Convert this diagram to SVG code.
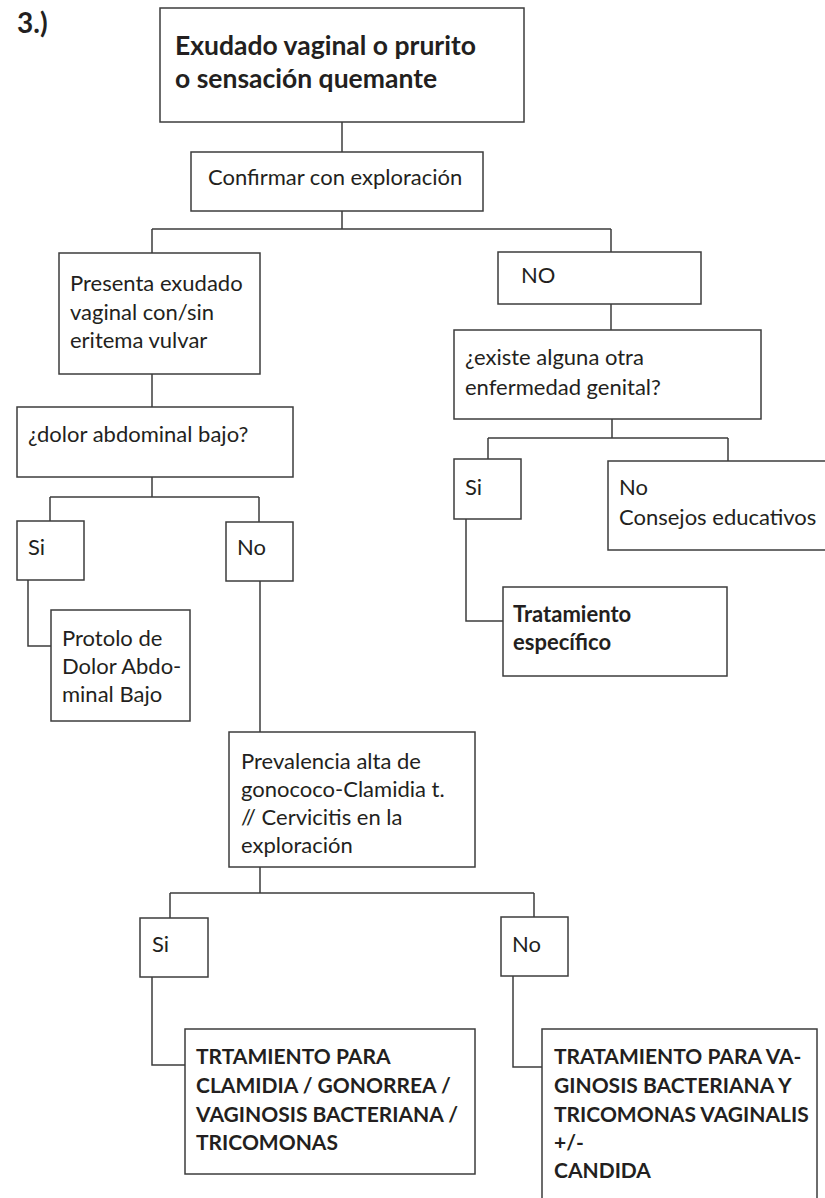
<svg xmlns="http://www.w3.org/2000/svg" width="825" height="1198" viewBox="0 0 825 1198">
  <style>
    .box { fill: #ffffff; stroke: #3d3d3d; stroke-width: 1.5; }
    .wire { fill: none; stroke: #3d3d3d; stroke-width: 1.5; }
    .t { font-family: Lato, "Liberation Sans", sans-serif; font-size: 22px; fill: #231f20; }
    .b { font-family: Lato, "Liberation Sans", sans-serif; font-size: 21px; font-weight: bold; fill: #231f20; }
    .h { font-family: Lato, "Liberation Sans", sans-serif; font-size: 26.5px; font-weight: bold; fill: #231f20; }
  </style>
  <rect width="825" height="1198" fill="#ffffff"/>

  <text class="h" x="17" y="33" style="font-size:28px">3.)</text>

  <!-- connectors -->
  <g id="connectors">
    <path class="wire" d="M342 122 V152"/>
    <path class="wire" d="M342 211 V229 M152 229 H611 M152 229 V253 M611 229 V252"/>
    <path class="wire" d="M152 374 V407"/>
    <path class="wire" d="M152 477 V497 M50 497 H259 M50 497 V521 M259 497 V522"/>
    <path class="wire" d="M28 580 V646 H51"/>
    <path class="wire" d="M260 581 V732"/>
    <path class="wire" d="M260 867 V893 M170 893 H534 M170 893 V918 M534 893 V917"/>
    <path class="wire" d="M152 977 V1065 H185"/>
    <path class="wire" d="M513 976 V1067 H542"/>
    <path class="wire" d="M611 304 V330"/>
    <path class="wire" d="M612 419 V438 M488 438 H728 M488 438 V459 M728 438 V461"/>
    <path class="wire" d="M466 519 V621 H503"/>
  </g>

  <g id="n-start">
    <rect class="box" x="160" y="8" width="364" height="114"/>
    <text class="h" x="175" y="55">Exudado vaginal o prurito</text>
    <text class="h" x="175" y="88">o sensación quemante</text>
  </g>

  <g id="n-confirm">
    <rect class="box" x="191" y="152" width="292" height="59"/>
    <text class="t" x="208" y="185">Confirmar con exploración</text>
  </g>

  <g id="n-presenta">
    <rect class="box" x="59" y="253" width="201" height="121"/>
    <text class="t" x="70" y="291">Presenta exudado</text>
    <text class="t" x="70" y="320">vaginal con/sin</text>
    <text class="t" x="70" y="348">eritema vulvar</text>
  </g>

  <g id="n-dolor">
    <rect class="box" x="17" y="407" width="276" height="70"/>
    <text class="t" x="28" y="442">¿dolor abdominal bajo?</text>
  </g>

  <g id="n-si1">
    <rect class="box" x="17" y="521" width="67" height="59"/>
    <text class="t" x="28" y="555">Si</text>
  </g>

  <g id="n-no1">
    <rect class="box" x="226" y="522" width="67" height="59"/>
    <text class="t" x="237" y="555">No</text>
  </g>

  <g id="n-protocolo">
    <rect class="box" x="51" y="610" width="139" height="111"/>
    <text class="t" x="62" y="646">Protolo de</text>
    <text class="t" x="62" y="674">Dolor Abdo-</text>
    <text class="t" x="62" y="702">minal Bajo</text>
  </g>

  <g id="n-prevalencia">
    <rect class="box" x="229" y="732" width="246" height="135"/>
    <text class="t" x="241" y="769">Prevalencia alta de</text>
    <text class="t" x="241" y="797">gonococo-Clamidia t.</text>
    <text class="t" x="241" y="825">// Cervicitis en la</text>
    <text class="t" x="241" y="853">exploración</text>
  </g>

  <g id="n-si2">
    <rect class="box" x="140" y="918" width="68" height="59"/>
    <text class="t" x="152" y="952">Si</text>
  </g>

  <g id="n-no2">
    <rect class="box" x="501" y="917" width="67" height="59"/>
    <text class="t" x="512" y="952">No</text>
  </g>

  <g id="n-trat-clamidia">
    <rect class="box" x="185" y="1029" width="290" height="145"/>
    <text class="b" x="196" y="1064">TRTAMIENTO PARA</text>
    <text class="b" x="196" y="1093">CLAMIDIA / GONORREA /</text>
    <text class="b" x="196" y="1122">VAGINOSIS BACTERIANA /</text>
    <text class="b" x="196" y="1150">TRICOMONAS</text>
  </g>

  <g id="n-trat-vaginosis">
    <rect class="box" x="542" y="1029" width="275" height="190"/>
    <text class="b" x="554" y="1064">TRATAMIENTO PARA VA-</text>
    <text class="b" x="554" y="1093">GINOSIS BACTERIANA Y</text>
    <text class="b" x="554" y="1122">TRICOMONAS VAGINALIS</text>
    <text class="b" x="554" y="1150">+/-</text>
    <text class="b" x="554" y="1178">CANDIDA</text>
  </g>

  <g id="n-no-confirm">
    <rect class="box" x="498" y="252" width="203" height="52"/>
    <text class="t" x="521" y="283">NO</text>
  </g>

  <g id="n-otra">
    <rect class="box" x="454" y="330" width="307" height="89"/>
    <text class="t" x="465" y="365">¿existe alguna otra</text>
    <text class="t" x="465" y="395">enfermedad genital?</text>
  </g>

  <g id="n-si3">
    <rect class="box" x="454" y="459" width="67" height="60"/>
    <text class="t" x="465" y="495">Si</text>
  </g>

  <g id="n-consejos">
    <rect class="box" x="608" y="461" width="230" height="89"/>
    <text class="t" x="619" y="495">No</text>
    <text class="t" x="619" y="525">Consejos educativos</text>
  </g>

  <g id="n-especifico">
    <rect class="box" x="503" y="587" width="224" height="89"/>
    <text class="b" x="513" y="622" style="font-size:22px">Tratamiento</text>
    <text class="b" x="513" y="650" style="font-size:22px">específico</text>
  </g>
</svg>
